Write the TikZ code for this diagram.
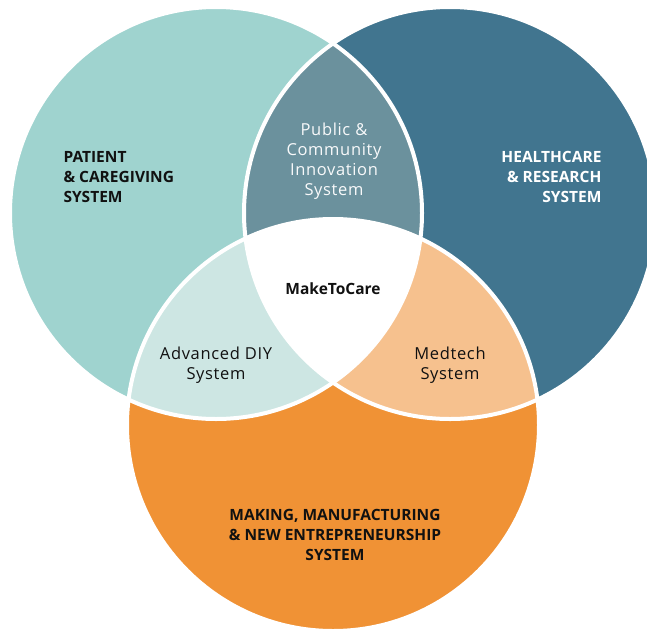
\documentclass[tikz,border=0pt]{standalone}
\usepackage{fontspec}
\setmainfont{Open Sans}
\usepackage{tikz}

\definecolor{patientc}{HTML}{9FD3CF}
\definecolor{healthc}{HTML}{41758F}
\definecolor{makingc}{HTML}{F09235}
\definecolor{publicc}{HTML}{6B919D}
\definecolor{diyc}{HTML}{CDE6E3}
\definecolor{medtechc}{HTML}{F6C18E}
\definecolor{labelc}{HTML}{111111}

\tikzset{
    big/.style={font=\fontsize{15.5}{20}\selectfont\bfseries, text=labelc},
    small/.style={font=\fontsize{16.5}{20}\selectfont\addfontfeatures{LetterSpace=4}, text=labelc, align=center},
}

\begin{document}
\begin{tikzpicture}[x=1pt,y=-1pt]

\clip (0,0) rectangle (647,635);

\coordinate (P) at (216,213);
\coordinate (H) at (450,213);
\coordinate (M) at (333,425);
\def\r{206pt}

\fill [patientc] (P) circle (\r);
\fill [healthc]  (H) circle (\r);
\fill [makingc]  (M) circle (\r);

\begin{scope}
    \clip (P) circle (\r);
    \fill [publicc] (H) circle (\r);
    \fill [diyc] (M) circle (\r);
\end{scope}

\begin{scope}
    \clip (H) circle (\r);
    \fill [medtechc] (M) circle (\r);
\end{scope}

\begin{scope}
    \clip (P) circle (\r);
    \clip (H) circle (\r);
    \fill [white] (M) circle (\r);
\end{scope}

\foreach \c in {P,H,M}
    \draw [white, line width=4pt] (\c) circle (\r);

\node (patient) [big, align=left, anchor=west] at (60,177) {PATIENT\\\& CAREGIVING\\SYSTEM};
\node (health) [big, align=right, anchor=east, text=white] at (605,177) {HEALTHCARE\\\& RESEARCH\\SYSTEM};
\node (making) [big, align=center] at (335,535) {MAKING, MANUFACTURING\\\& NEW ENTREPRENEURSHIP\\SYSTEM};

\node (public) [small, text=white!95!publicc] at (334,161) {Public \&\\Community\\Innovation\\System};
\node (diy) [small] at (216,365) {Advanced DIY\\System};
\node (medtech) [small] at (450,365) {Medtech\\System};

\node (core) [big] at (333,289) {MakeToCare};

\end{tikzpicture}
\end{document}
